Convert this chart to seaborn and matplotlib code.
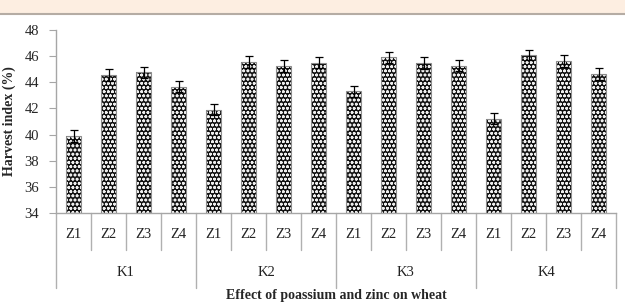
import matplotlib
matplotlib.use("Agg")
import matplotlib.pyplot as plt
import matplotlib.transforms as mtransforms
from matplotlib.patches import Rectangle
import seaborn as sns
import pandas as pd

potassium = ["K1", "K2", "K3", "K4"]
zinc = ["Z1", "Z2", "Z3", "Z4"]
harvest_index = [39.9, 44.55, 44.75, 43.65,
                 41.9, 45.55, 45.25, 45.5,
                 43.3, 45.9, 45.5, 45.25,
                 41.2, 46.1, 45.6, 44.65]
errors = [0.45, 0.45, 0.45, 0.42,
          0.42, 0.45, 0.45, 0.42,
          0.42, 0.45, 0.45, 0.42,
          0.42, 0.4, 0.45, 0.45]
yticks = [34, 36, 38, 40, 42, 44, 46, 48]

sns.set_style("white")
plt.rcParams['font.family'] = ['Liberation Serif', 'DejaVu Serif']
plt.rcParams['hatch.linewidth'] = 0.8

labels = [f"{k}-{z}" for k in potassium for z in zinc]
df = pd.DataFrame({"group": labels, "hi": harvest_index})

fig = plt.figure(figsize=(6.25, 3.02), dpi=100)
fig.patches.append(Rectangle((0, 1 - 13/302), 1, 13/302, transform=fig.transFigure,
                             facecolor="#fdeee1", edgecolor="none", zorder=0))
fig.lines.append(plt.Line2D([0, 1], [1 - 14/302, 1 - 14/302], transform=fig.transFigure,
                            color="#b5aca4", lw=1.5))
ax = fig.add_axes([56/625, (302-213)/302, 560/625, 183/302])

sns.barplot(data=df, x="group", y="hi", order=labels, color="#111111",
            width=0.43, ax=ax, errorbar=None, linewidth=0)
for p in ax.patches:
    p.set_hatch("oooo")
    p.set_edgecolor("#eeeeee")
    p.set_linewidth(0)
    r = Rectangle((p.get_x(), p.get_y()), p.get_width(), p.get_height(),
                  fill=False, edgecolor="#8c8c8c", lw=0.8, zorder=3)
    ax.add_patch(r)

ax.errorbar(range(len(labels)), harvest_index, yerr=errors, fmt="none",
            ecolor="black", elinewidth=0.9, capsize=3, capthick=0.9, zorder=4)

ax.set_ylim(34, 48)
ax.set_xlim(-0.5, len(labels) - 0.5)
ax.set_yticks(yticks)
ax.set_yticklabels([str(t) for t in yticks], fontsize=10.5)
ax.tick_params(axis="y", length=5, color="#a6a6a6", direction="out", left=True, pad=7)
ax.set_xticks([])
ax.set_xlabel("")
ax.set_ylabel("Harvest index (%)", fontsize=10, fontweight="bold", labelpad=6)
for side in ["top", "right"]:
    ax.spines[side].set_visible(False)
for side in ["left", "bottom"]:
    ax.spines[side].set_color("#a6a6a6")
    ax.spines[side].set_linewidth(1)

trans = mtransforms.blended_transform_factory(ax.transData, ax.transAxes)
z_depth = -37/183
k_depth = -75/183
n = len(labels)
for i in range(n + 1):
    x = i - 0.5
    depth = k_depth if i % 4 == 0 else z_depth
    ax.plot([x, x], [0, depth], transform=trans, color="#b0b0b0", lw=1, clip_on=False)
for i, lab in enumerate(labels):
    ax.text(i, -22/183, zinc[i % 4], transform=trans, ha="center", va="center",
            fontsize=10.5, color="#222222")
for j, k in enumerate(potassium):
    ax.text(j * 4 + 1.5, -59/183, k, transform=trans, ha="center", va="center",
            fontsize=10.5, color="#222222")

fig.text(336/625, 1 - 295/302, "Effect of poassium and zinc on wheat", ha="center",
         va="center", fontsize=10, fontweight="bold")

fig.savefig("out.png", dpi=100)
